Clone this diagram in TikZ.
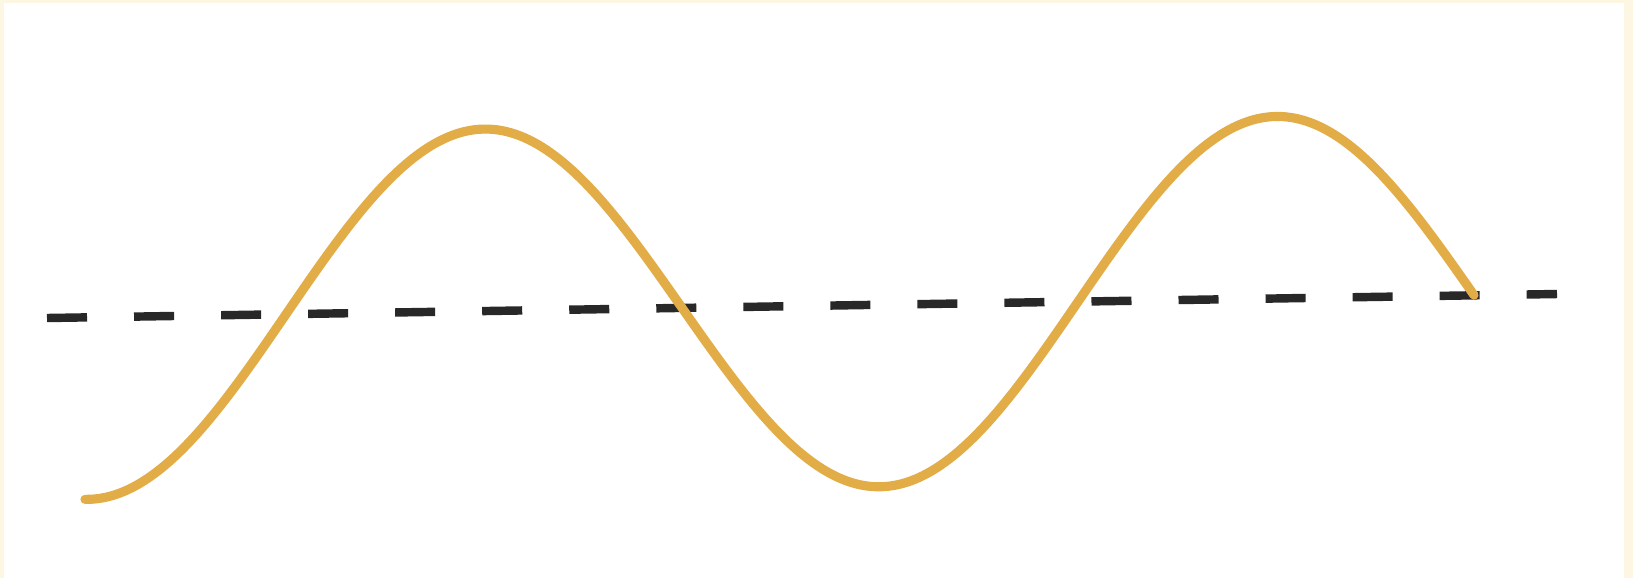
\documentclass[tikz,border=0pt]{standalone}
\usepackage{xcolor}
\usepackage{tikz}
\usetikzlibrary{calc}

\definecolor{waveGold}{RGB}{226,172,70}
\definecolor{dashInk}{RGB}{40,40,40}
\definecolor{paperEdge}{RGB}{252,246,226}

\begin{document}
\begin{tikzpicture}[
        x=0.01cm, y=-0.01cm,
        sinewave/.style={draw=waveGold, line width=2.6pt, line cap=round},
        axisline/.style={draw=dashInk, line width=2.4pt, dash pattern=on 0.4cm off 0.47cm},
        frame/.style={fill=paperEdge, draw=none},
        sheet/.style={fill=white, draw=none}
    ]
        \useasboundingbox (0,0) rectangle (1633,578);
        \path[frame] (0,0) rectangle (1633,578);
        \path[sheet] (4,3) rectangle (1624,578);

        \coordinate (axisL) at (47,318);
        \coordinate (axisR) at (1557,294);
        \draw[axisline] (axisL) -- (axisR);

        % trough at x=88, half period 396, midline sloping with the dashed line
        \draw[sinewave] plot[domain=85:1474, samples=200, smooth]
            (\x, {318 - 0.0159*(\x-47) + 182*cos(0.4545*(\x-88))});
    \end{tikzpicture}
\end{document}
